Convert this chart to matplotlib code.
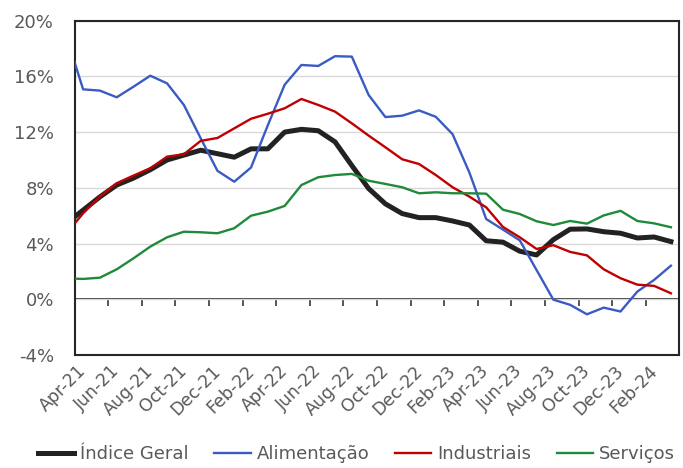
import numpy as np
import matplotlib
matplotlib.use("Agg")
import matplotlib.pyplot as plt
import matplotlib.transforms as mtransforms

# meses (Mar-21 fica fora do eixo, só serve para o troço inicial cortado)
meses = ["Mar-21", "Apr-21", "May-21", "Jun-21", "Jul-21", "Aug-21", "Sep-21", "Oct-21",
         "Nov-21", "Dec-21", "Jan-22", "Feb-22", "Mar-22", "Apr-22", "May-22", "Jun-22",
         "Jul-22", "Aug-22", "Sep-22", "Oct-22", "Nov-22", "Dec-22", "Jan-23", "Feb-23",
         "Mar-23", "Apr-23", "May-23", "Jun-23", "Jul-23", "Aug-23", "Sep-23", "Oct-23",
         "Nov-23", "Dec-23", "Jan-24", "Feb-24", "Mar-24"]

indice_geral = [5.45, 6.4, 7.35, 8.2, 8.7, 9.3, 10.0, 10.35, 10.7, 10.45,
                10.2, 10.8, 10.8, 12.0, 12.2, 12.1, 11.3, 9.6, 7.95, 6.85, 6.15, 5.86,
                5.86, 5.62, 5.33, 4.2, 4.1, 3.45, 3.18, 4.28, 5.03, 5.05, 4.85, 4.74,
                4.4, 4.47, 4.14]
alimentacao = [18.9, 15.07, 14.98, 14.5, 15.26, 16.05, 15.5, 13.95, 11.56, 9.22,
               8.44, 9.46, 12.5, 15.4, 16.82, 16.75, 17.45, 17.42, 14.67, 13.08, 13.18, 13.56,
               13.1, 11.85, 9.1, 5.76, 5.0, 4.23, 2.1, -0.03, -0.4, -1.08, -0.6, -0.88,
               0.55, 1.39, 2.41]
industriais = [4.72, 6.17, 7.37, 8.33, 8.88, 9.4, 10.24, 10.41, 11.37, 11.58,
               12.27, 12.96, 13.32, 13.71, 14.38, 13.95, 13.47, 12.63, 11.75, 10.91, 10.05, 9.71,
               8.92, 8.04, 7.37, 6.6, 5.19, 4.45, 3.61, 3.88, 3.4, 3.15, 2.15, 1.51,
               1.05, 0.96, 0.43]
servicos = [1.5, 1.46, 1.55, 2.15, 2.94, 3.78, 4.45, 4.85, 4.81, 4.74,
            5.1, 6.0, 6.29, 6.7, 8.2, 8.76, 8.92, 9.0, 8.51, 8.28, 8.04, 7.61,
            7.68, 7.61, 7.61, 7.58, 6.43, 6.12, 5.6, 5.33, 5.62, 5.43, 6.02, 6.35,
            5.62, 5.45, 5.17]

nomes = ["Índice Geral", "Alimentação", "Industriais", "Serviços"]
cores = ["#222222", "#3A5BC2", "#C00000", "#1F8A3A"]
espessuras = [3.6, 1.7, 1.7, 1.7]

y_ticks = [-4, 0, 4, 8, 12, 16, 20]
y_labels = ["-4%", "0%", "4%", "8%", "12%", "16%", "20%"]

cinza = "#595959"
escuro = "#262626"

x = np.arange(len(meses)) - 1  # Apr-21 = 0

fig = plt.figure(figsize=(6.83, 4.68), dpi=100)
ax = fig.add_axes([0.1094, 0.2415, 0.8852, 0.7143])

series = [indice_geral, alimentacao, industriais, servicos]
for i, (serie, nome) in enumerate(zip(series, nomes)):
    ax.plot(x, serie, color=cores[i], lw=espessuras[i], label=nome,
            solid_joinstyle="round", zorder=3 + i)

ax.set_xlim(-0.5, len(meses) - 1.5)
ax.set_ylim(-4, 20)

# eixo Y
ax.set_yticks(y_ticks)
ax.set_yticklabels(y_labels)
ax.yaxis.grid(True, color="#d9d9d9", lw=1.0, zorder=0)
ax.tick_params(axis="y", length=0, pad=15, labelsize=13, labelcolor=cinza)

# etiquetas do eixo X (a cada 2 meses)
ax.set_xticks(x[1::2])
ax.set_xticklabels(meses[1::2], rotation=45, ha="right", rotation_mode="anchor")
ax.tick_params(axis="x", length=0, pad=5, labelsize=12.5, labelcolor=cinza)
desloc = mtransforms.ScaledTranslation(-6 / 100, 0, fig.dpi_scale_trans)
for lbl in ax.get_xticklabels():
    lbl.set_transform(lbl.get_transform() + desloc)

for s in ax.spines.values():
    s.set_color(escuro)
    s.set_linewidth(1.5)

# linha do zero com as marcas
sec = ax.secondary_xaxis(4 / 24)
sec.set_xticks(np.arange(-0.5, len(meses) - 1, 2))
sec.set_xticklabels([])
sec.tick_params(length=5, width=1.1, color=escuro, direction="out")
sec.spines["bottom"].set_color(escuro)
sec.spines["bottom"].set_linewidth(1.3)

fig.legend(loc="lower center", bbox_to_anchor=(0.522, -0.005), ncol=4, frameon=False,
           handlelength=2.0, handletextpad=0.35, columnspacing=1.4, fontsize=13,
           labelcolor=cinza, borderaxespad=0)

fig.savefig("out.png", dpi=100)
